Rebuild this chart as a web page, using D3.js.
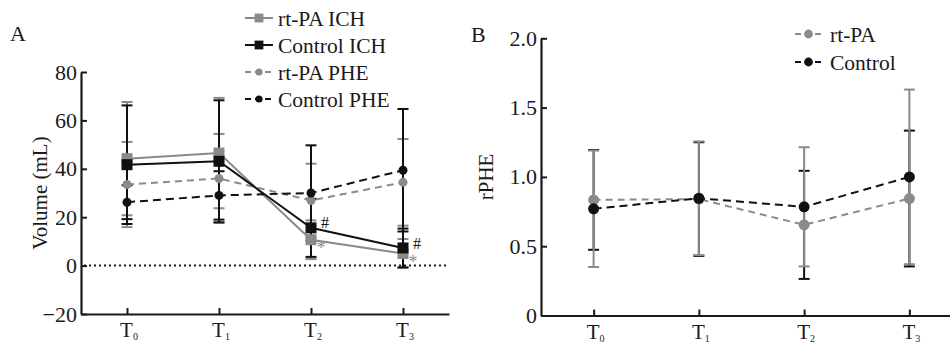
<!DOCTYPE html>
<html>
<head>
<meta charset="utf-8">
<script src="https://cdn.jsdelivr.net/npm/d3@7"></script>
<style>
  body { margin: 0; background: #fff; }
  svg text { font-family: "Liberation Serif", "Times New Roman", serif; fill: #1a1a1a; }
</style>
</head>
<body>
<svg id="chart" width="950" height="345"></svg>
<script>
// time points
const times = ["T0", "T1", "T2", "T3"];
const timeSub = ["0", "1", "2", "3"];

// panel A: volume (mL), mean and SD
const rtIchMean = [44.2, 46.5, 10.7, 5.0];
const rtIchSd = [23.4, 22.8, 8.0, 6.0];
const ctIchMean = [41.7, 43.1, 15.6, 7.3];
const ctIchSd = [24.5, 25.2, 12.0, 8.0];
const rtPheMean = [33.5, 36.0, 26.9, 34.4];
const rtPheSd = [17.6, 18.4, 15.2, 17.9];
const ctPheMean = [26.2, 29.0, 30.0, 39.4];
const ctPheSd = [7.0, 10.0, 19.7, 25.3];
const ticksA = [-20, 0, 20, 40, 60, 80];

// panel B: rPHE, mean and SD
const rtRpheMean = [0.834, 0.84, 0.654, 0.844];
const rtRpheSd = [0.36, 0.41, 0.39, 0.49];
const ctRpheMean = [0.77, 0.846, 0.784, 1.0];
const ctRpheSd = [0.42, 0.41, 0.43, 0.63];
const ticksB = [0, 0.5, 1.0, 1.5, 2.0];

// significance marks: [series, time index, symbol]
const marksA = [["ctIch", 2, "#"], ["rtIch", 2, "*"], ["ctIch", 3, "#"], ["rtIch", 3, "*"]];

const gray = "#8a8a8a";
const black = "#111";
const svg = d3.select("#chart");

const seriesA = [
  {key: "rtPhe", name: "rt-PA PHE", mean: rtPheMean, sd: rtPheSd, color: gray, barColor: gray, dash: "7,5", shape: "circle", r: 4.5},
  {key: "rtIch", name: "rt-PA ICH", mean: rtIchMean, sd: rtIchSd, color: gray, barColor: gray, dash: null, shape: "square", r: 5.5},
  {key: "ctPhe", name: "Control PHE", mean: ctPheMean, sd: ctPheSd, color: black, barColor: black, dash: "8,5", shape: "circle", r: 4.5},
  {key: "ctIch", name: "Control ICH", mean: ctIchMean, sd: ctIchSd, color: black, barColor: black, dash: null, shape: "square", r: 5.5}
];
const legendA = ["rtIch", "ctIch", "rtPhe", "ctPhe"];

// in panel B the error bars carry the other group's shade
const seriesB = [
  {key: "rt", name: "rt-PA", mean: rtRpheMean, sd: rtRpheSd, color: gray, barColor: black, dash: "7,5", shape: "circle", r: 5.5},
  {key: "ct", name: "Control", mean: ctRpheMean, sd: ctRpheSd, color: black, barColor: gray, dash: "8,5", shape: "circle", r: 5.5}
];

function drawPanel(opt) {
  const x = d3.scalePoint().domain(times).range(opt.xRange).padding(0.5);
  const y = d3.scaleLinear().domain(opt.yDomain).range(opt.yRange);
  const g = svg.append("g");

  // axes, ticks pointing inward
  const yAxis = g.append("g")
    .attr("transform", `translate(${opt.xRange[0]},0)`)
    .call(d3.axisLeft(y).tickValues(opt.ticks).tickSize(-6).tickSizeOuter(0).tickPadding(4).tickFormat(opt.fmt));
  const xAxis = g.append("g")
    .attr("transform", `translate(0,${opt.yRange[0]})`)
    .call(d3.axisBottom(x).tickSize(-6).tickSizeOuter(0).tickFormat(""));
  [yAxis, xAxis].forEach(a => {
    a.select(".domain").attr("stroke", "#1a1a1a").attr("stroke-width", 2.2);
    a.selectAll(".tick line").attr("stroke", "#1a1a1a").attr("stroke-width", 2);
  });
  yAxis.selectAll(".tick text").style("font-size", "22px").attr("fill", "#1a1a1a");

  // x labels with subscripts
  times.forEach((t, i) => {
    const txt = g.append("text")
      .attr("x", x(t) + 2).attr("y", opt.yRange[0] + 23)
      .attr("text-anchor", "middle").style("font-size", "21px");
    txt.append("tspan").text("T");
    txt.append("tspan").attr("dy", 3).style("font-size", "10px").text(timeSub[i]);
  });

  // y title
  g.append("text")
    .attr("transform", `translate(${opt.titleX},${(opt.yRange[0] + opt.yRange[1]) / 2}) rotate(-90)`)
    .attr("text-anchor", "middle").attr("dy", "0.35em")
    .style("font-size", "21px").text(opt.title);

  // panel letter
  g.append("text").attr("x", opt.letterPos[0]).attr("y", opt.letterPos[1])
    .style("font-size", "22px").text(opt.letter);

  if (opt.zeroLine) {
    g.append("line")
      .attr("x1", opt.xRange[0] + 3).attr("x2", opt.xRange[1])
      .attr("y1", y(0)).attr("y2", y(0))
      .attr("stroke", "#1a1a1a").attr("stroke-width", 2).attr("stroke-dasharray", "2,3");
  }

  // error bars (gray under black, or in given order)
  opt.barOrder.forEach(k => {
    const s = opt.series.find(d => d.key === k);
    const bg = g.append("g").attr("stroke", s.barColor).attr("stroke-width", 2);
    times.forEach((t, i) => {
      const cx = x(t), lo = y(s.mean[i] - s.sd[i]), hi = y(s.mean[i] + s.sd[i]);
      bg.append("line").attr("x1", cx).attr("x2", cx).attr("y1", lo).attr("y2", hi);
      bg.append("line").attr("x1", cx - 5.5).attr("x2", cx + 5.5).attr("y1", lo).attr("y2", lo);
      bg.append("line").attr("x1", cx - 5.5).attr("x2", cx + 5.5).attr("y1", hi).attr("y2", hi);
    });
  });

  const line = d3.line().x((d, i) => x(times[i])).y(d => y(d));
  opt.series.forEach(s => {
    g.append("path").datum(s.mean)
      .attr("d", line).attr("fill", "none")
      .attr("stroke", s.color).attr("stroke-width", 2)
      .attr("stroke-dasharray", s.dash);
    times.forEach((t, i) => drawMarker(g, s, x(t), y(s.mean[i])));
  });

  // legend
  opt.legend.forEach((k, i) => {
    const s = opt.series.find(d => d.key === k);
    const ly = opt.legendPos[1] + i * opt.legendStep;
    const [lx0, lx1] = opt.legendLine;
    g.append("line").attr("x1", lx0).attr("x2", lx1).attr("y1", ly).attr("y2", ly)
      .attr("stroke", s.color).attr("stroke-width", 2)
      .attr("stroke-dasharray", s.dash ? "6,4" : null);
    drawMarker(g, Object.assign({}, s, {r: s.r * 0.8}), (lx0 + lx1) / 2, ly);
    g.append("text").attr("x", opt.legendPos[0]).attr("y", ly).attr("dy", "0.35em")
      .style("font-size", "21.5px").text(s.name);
  });

  return {x, y, g};
}

function drawMarker(g, s, cx, cy) {
  if (s.shape === "square") {
    g.append("rect").attr("x", cx - s.r).attr("y", cy - s.r)
      .attr("width", s.r * 2).attr("height", s.r * 2).attr("fill", s.color);
  } else {
    g.append("circle").attr("cx", cx).attr("cy", cy).attr("r", s.r).attr("fill", s.color);
  }
}

const A = drawPanel({
  xRange: [81, 449], yDomain: [-20, 80], yRange: [314, 72], ticks: ticksA,
  fmt: d => d < 0 ? "\u2212" + Math.abs(d) : String(d),
  title: "Volume (mL)", titleX: 40, letter: "A", letterPos: [10, 41],
  zeroLine: true, series: seriesA,
  barOrder: ["rtIch", "rtPhe", "ctIch", "ctPhe"],
  legend: legendA, legendPos: [278, 18], legendStep: 27, legendLine: [245, 273]
});

marksA.forEach(([k, i, sym]) => {
  const s = seriesA.find(d => d.key === k);
  const isHash = sym === "#";
  A.g.append("text")
    .attr("x", A.x(times[i]) + (isHash ? 14 : 10))
    .attr("y", A.y(s.mean[i]) + (isHash ? -5 : 8))
    .attr("text-anchor", "middle").attr("dy", "0.35em")
    .style("font-size", isHash ? "16px" : "18px")
    .style("fill", isHash ? black : gray)
    .text(sym);
});

drawPanel({
  xRange: [541, 962], yDomain: [0, 2], yRange: [315.5, 38.3], ticks: ticksB,
  fmt: d => d === 0 ? "0" : d.toFixed(1),
  title: "rPHE", titleX: 486, letter: "B", letterPos: [471, 42],
  zeroLine: false, series: seriesB,
  barOrder: ["rt", "ct"],
  legend: ["rt", "ct"], legendPos: [830, 34], legendStep: 28, legendLine: [795, 822]
});
</script>
</body>
</html>
